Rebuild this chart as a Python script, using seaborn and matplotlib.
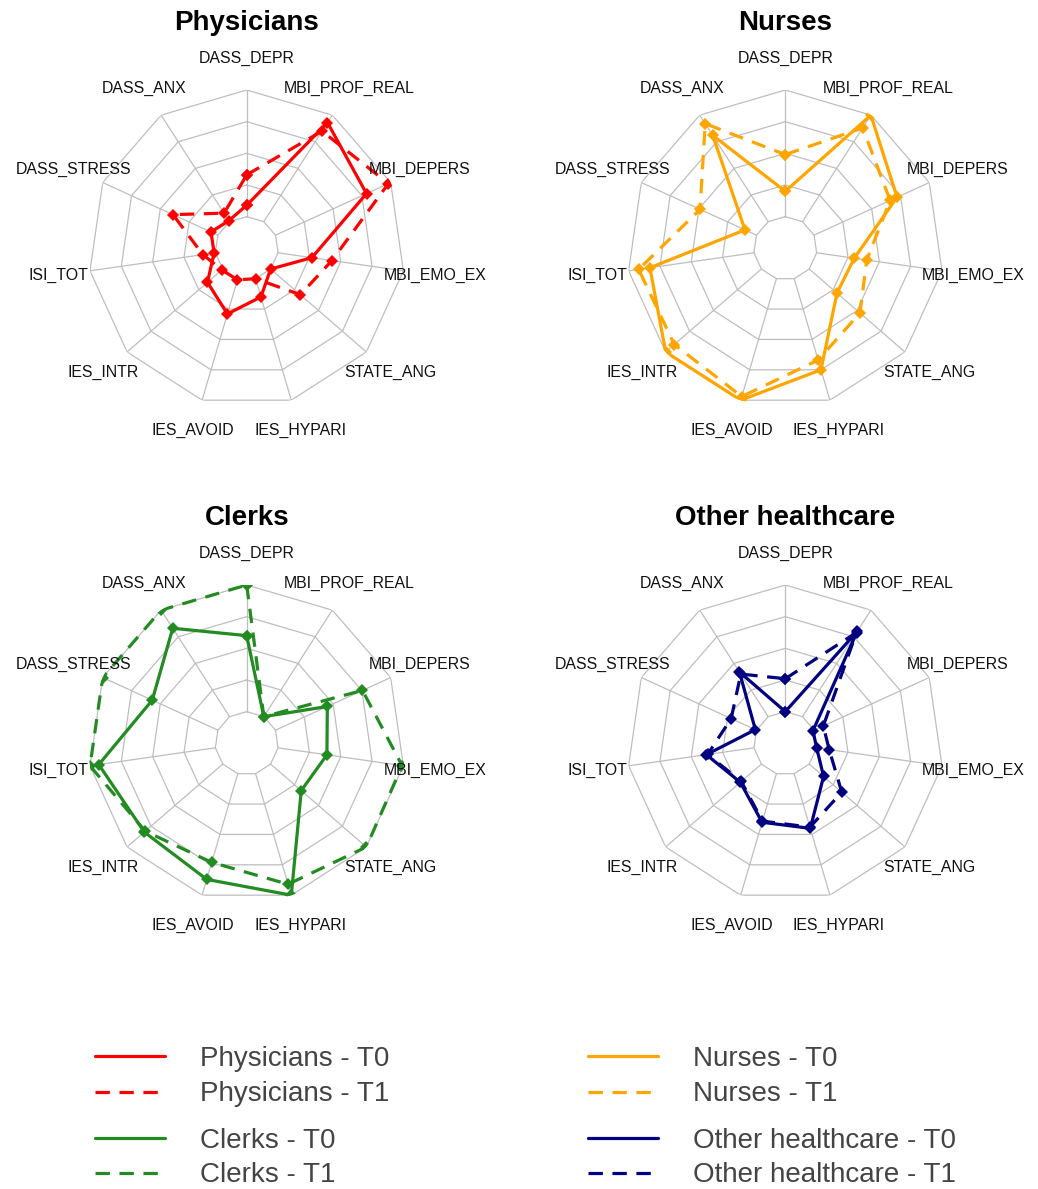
import numpy as np
import pandas as pd
import matplotlib
matplotlib.use("Agg")
import matplotlib.pyplot as plt
from matplotlib.lines import Line2D
import seaborn as sns

# Axes of the radar charts, clockwise from the top
measures = ["DASS_DEPR", "MBI_PROF_REAL", "MBI_DEPERS", "MBI_EMO_EX", "STATE_ANG",
            "IES_HYPARI", "IES_AVOID", "IES_INTR", "ISI_TOT", "DASS_STRESS", "DASS_ANX"]

# Scores rescaled to the chart range (0 = scale minimum, 1 = scale maximum)
physicians_t0 = [0.09, 0.93, 0.79, 0.27, 0.00, 0.15, 0.29, 0.16, 0.01, 0.06, 0.01]
physicians_t1 = [0.33, 0.85, 0.98, 0.43, 0.31, 0.00, 0.01, 0.01, 0.10, 0.39, 0.08]
nurses_t0 = [0.20, 1.00, 0.72, 0.30, 0.29, 0.75, 1.00, 1.00, 0.83, 0.10, 0.81]
nurses_t1 = [0.49, 0.88, 0.66, 0.40, 0.53, 0.67, 0.97, 0.91, 0.92, 0.49, 0.92]
clerks_t0 = [0.60, 0.00, 0.45, 0.39, 0.32, 1.00, 0.87, 0.82, 0.93, 0.57, 0.83]
clerks_t1 = [1.00, 0.00, 0.755, 0.99, 1.00, 0.91, 0.73, 0.81, 1.00, 1.00, 1.00]
other_t0 = [0.00, 0.80, -0.01, 0.00, 0.15, 0.45, 0.40, 0.22, 0.38, 0.01, 0.42]
other_t1 = [0.26, 0.79, 0.08, 0.10, 0.34, 0.44, 0.39, 0.21, 0.37, 0.22, 0.40]

groups = ["Physicians", "Nurses", "Clerks", "Other healthcare"]
group_colors = ["#FF0000", "#FFA500", "#228B22", "#000080"]
series = {
    "Physicians": (physicians_t0, physicians_t1),
    "Nurses": (nurses_t0, nurses_t1),
    "Clerks": (clerks_t0, clerks_t1),
    "Other healthcare": (other_t0, other_t1),
}

sns.set_style("white")
plt.rcParams["font.family"] = ["Liberation Sans", "DejaVu Sans"]

W, H = 1038, 1189
fig = plt.figure(figsize=(W / 100, H / 100), dpi=100)
fig.patch.set_facecolor("white")

n = len(measures)
theta = np.arange(n) * 2 * np.pi / n
theta_closed = np.append(theta, 2 * np.pi)
inner = 0.2            # radius of the innermost ring (scale minimum)
rings = np.linspace(inner, 1.0, 5)

R_px = 158.3
centers = [(246.7, 248.3), (785.3, 248.3), (246.7, 743.3), (785.3, 743.3)]
grid_color = "#BEBEBE"
dash_pattern = (0, (4.5, 3.0))


def to_radius(vals):
    v = np.asarray(vals, dtype=float)
    r = inner + (1 - inner) * v
    return np.append(r, r[0])


for (cx, cy), grp, col in zip(centers, groups, group_colors):
    w = 2 * R_px / W
    h = 2 * R_px / H
    ax = fig.add_axes([cx / W - w / 2, 1 - cy / H - h / 2, w, h], projection="polar")
    ax.set_theta_zero_location("N")
    ax.set_theta_direction(-1)
    ax.set_ylim(0, 1)
    ax.set_axis_off()

    # polygon web
    for rr in rings:
        ax.plot(theta_closed, np.full(n + 1, rr), color=grid_color, lw=0.9, zorder=1)
    for t in theta:
        ax.plot([t, t], [inner, 1.0], color=grid_color, lw=0.9, zorder=1)

    t0, t1 = series[grp]
    for vals, ls in ((t0, "-"), (t1, dash_pattern)):
        df = pd.DataFrame({"angle": theta_closed, "radius": to_radius(vals)})
        sns.lineplot(data=df, x="angle", y="radius", sort=False, estimator=None,
                     ax=ax, color=col, lw=2.3, linestyle=ls, marker="D",
                     markersize=6.5, markeredgewidth=0, zorder=3, legend=False)

    for t, lab in zip(theta, measures):
        ax.text(t, 1.2, lab, ha="center", va="center", fontsize=11.4,
                color="#111111", clip_on=False)

    fig.text(cx / W, 1 - (cy - 225) / H, grp, ha="center", va="center",
             fontsize=20, fontweight="bold", color="black")

# legend blocks
legend_pos = [(95, 1046), (588, 1046), (95, 1128), (588, 1128)]
legend_gap = [0.34, 0.34, 0.3, 0.3]
for (lx, ly), gap, grp, col in zip(legend_pos, legend_gap, groups, group_colors):
    handles = [Line2D([], [], color=col, lw=2.3, linestyle="-"),
               Line2D([], [], color=col, lw=2.3, linestyle=dash_pattern)]
    labels = [f"{grp} - T0", f"{grp} - T1"]
    fig.legend(handles, labels, loc="upper left",
               bbox_to_anchor=(lx / W, 1 - ly / H), bbox_transform=fig.transFigure,
               frameon=False, prop={"family": "Liberation Sans", "size": 20},
               handlelength=2.52, handletextpad=1.26, labelspacing=gap,
               borderpad=0, borderaxespad=0, labelcolor="#444444")

fig.savefig("out.png", dpi=100, facecolor="white")
